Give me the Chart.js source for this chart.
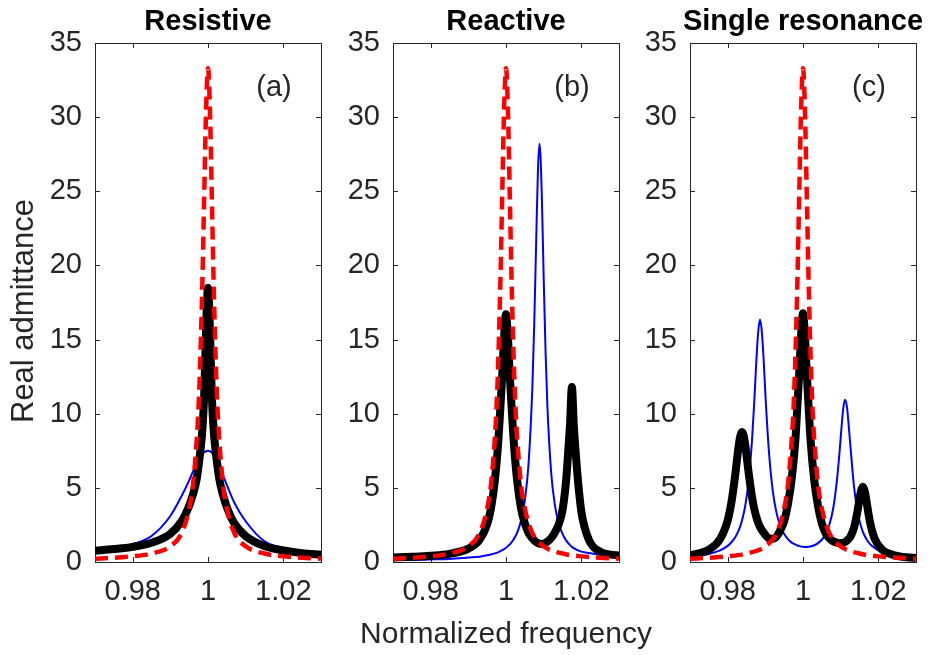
<!DOCTYPE html>
<html>
<head>
<meta charset="utf-8">
<title>Real admittance</title>
<script src="https://cdn.jsdelivr.net/npm/chart.js@4.4.1/dist/chart.umd.min.js"></script>
<style>
  body { margin: 0; background: #fff; }
  #fig { position: relative; width: 930px; height: 655px; overflow: hidden; }
  #fig canvas { position: absolute; top: 0; }
</style>
</head>
<body>
<div id="fig">
  <canvas id="resistive" width="330" height="655" style="left:0px"></canvas>
  <canvas id="reactive" width="330" height="655" style="left:330px"></canvas>
  <canvas id="single" width="305" height="655" style="left:625px"></canvas>
</div>
<script>
// ejes y textos
const xTicks = [0.98, 1, 1.02]
const xTickLabels = ['0.98', '1', '1.02']
const yTicks = [0, 5, 10, 15, 20, 25, 30, 35]
const panelTitles = ['Resistive', 'Reactive', 'Single resonance']
const panelTags = ['(a)', '(b)', '(c)']
const xTitle = 'Normalized frequency'
const yTitle = 'Real admittance'

// panel (a) - la curva roja (resonancia sola) se usa en los tres paneles
const freqA = [0.970, 0.975, 0.980, 0.985, 0.990, 0.993, 0.995, 0.996, 0.997, 0.9975,
  0.998, 0.9985, 0.999, 0.9995, 1.000, 1.0005, 1.001, 1.0015, 1.002, 1.0025,
  1.003, 1.004, 1.005, 1.007, 1.010, 1.015, 1.020, 1.025, 1.030]
const singleRes = [0.22, 0.29, 0.38, 0.57, 1.06, 1.95, 3.6, 5.2, 8.2, 10.5,
  14.0, 18.8, 24.8, 30.6, 33.3, 30.6, 24.8, 18.8, 14.0, 10.5,
  8.2, 5.2, 3.6, 1.95, 1.06, 0.57, 0.38, 0.29, 0.22]
const blackA = [0.76, 0.87, 1.02, 1.3, 1.9, 2.75, 3.8, 4.55, 5.6, 6.5,
  7.55, 8.9, 11.3, 15.8, 18.5, 15.8, 11.3, 8.9, 7.55, 6.5,
  5.6, 4.5, 3.7, 2.6, 1.75, 1.07, 0.78, 0.6, 0.48]
const blueA = [0.88, 1.0, 1.2, 1.75, 3.1, 4.45, 5.5, 6.1, 6.65, 6.9,
  7.1, 7.28, 7.4, 7.47, 7.5, 7.47, 7.38, 7.2, 6.95, 6.7,
  6.45, 5.85, 5.2, 4.0, 2.75, 1.4, 0.95, 0.72, 0.6]

// panel (b)
const freqB = [0.970, 0.975, 0.980, 0.985, 0.990, 0.993, 0.995, 0.996, 0.997, 0.998,
  0.9985, 0.999, 0.9995, 1.000, 1.0005, 1.001, 1.0015, 1.002, 1.003, 1.004,
  1.005, 1.006, 1.007, 1.0075, 1.008, 1.0085, 1.0089, 1.0095, 1.010, 1.0105,
  1.011, 1.012, 1.013, 1.014, 1.015, 1.016, 1.0165, 1.017, 1.0175, 1.018,
  1.0185, 1.019, 1.020, 1.022, 1.025, 1.030]
const blackB = [0.3, 0.35, 0.42, 0.55, 0.9, 1.5, 2.55, 3.6, 5.4, 8.3,
  10.4, 12.6, 15.2, 16.7, 15.2, 12.6, 10.4, 8.3, 5.4, 3.6,
  2.6, 1.95, 1.6, 1.45, 1.35, 1.28, 1.24, 1.22, 1.24, 1.3,
  1.38, 1.62, 2.0, 2.55, 3.5, 5.6, 7.4, 9.3, 11.8, 9.2,
  7.4, 5.8, 3.4, 1.5, 0.7, 0.43]
const blueB = [0.13, 0.14, 0.17, 0.21, 0.3, 0.36, 0.45, 0.51, 0.58, 0.67,
  0.73, 0.8, 0.87, 0.96, 1.07, 1.19, 1.34, 1.52, 2.0, 2.8,
  4.14, 6.67, 11.8, 16.05, 21.5, 26.6, 28.2, 24.8, 19.2, 14.2,
  10.45, 6.0, 3.8, 2.6, 1.9, 1.44, 1.28, 1.14, 1.02, 0.93,
  0.86, 0.8, 0.7, 0.6, 0.48, 0.35]

// panel (c)
const freqC = [0.970, 0.975, 0.978, 0.980, 0.981, 0.982, 0.9828, 0.9833, 0.9838, 0.9843,
  0.9848, 0.9855, 0.9865, 0.9871, 0.9876, 0.9881, 0.9886, 0.9891, 0.9896, 0.9901,
  0.991, 0.992, 0.993, 0.994, 0.995, 0.996, 0.997, 0.998, 0.9985, 0.999,
  0.9995, 1.000, 1.0005, 1.001, 1.0015, 1.002, 1.003, 1.004, 1.005, 1.006,
  1.007, 1.008, 1.009, 1.0097, 1.0102, 1.0107, 1.0112, 1.0117, 1.0122, 1.0127,
  1.0135, 1.0144, 1.0149, 1.0154, 1.0159, 1.0164, 1.0169, 1.0178, 1.019, 1.021,
  1.025, 1.030]
const blackC = [0.45, 0.84, 1.55, 2.81, 4.03, 5.85, 7.58, 8.44, 8.76, 8.47,
  7.64, 6.16, 4.32, 3.54, 3.04, 2.66, 2.36, 2.14, 1.96, 1.8,
  1.6, 1.56, 1.72, 2.15, 2.75, 3.9, 5.6, 8.3, 10.5, 12.75,
  15.3, 16.77, 15.3, 12.73, 10.4, 8.25, 5.5, 3.75, 2.6, 1.95,
  1.6, 1.4, 1.3, 1.27, 1.28, 1.3, 1.36, 1.45, 1.58, 1.76,
  2.28, 3.33, 4.09, 4.79, 5.07, 4.76, 4.02, 2.67, 1.59, 0.83,
  0.42, 0.27]
const blueC = [0.35, 0.54, 0.78, 1.09, 1.33, 1.67, 2.07, 2.39, 2.8, 3.32,
  4.0, 5.32, 8.35, 11.0, 13.5, 15.5, 16.35, 15.45, 13.4, 10.9,
  7.3, 4.75, 3.28, 2.42, 1.88, 1.54, 1.31, 1.17, 1.11, 1.07,
  1.04, 1.02, 1.01, 1.01, 1.03, 1.05, 1.13, 1.27, 1.5, 1.88,
  2.51, 3.59, 5.49, 7.4, 9.0, 10.4, 10.95, 10.4, 9.0, 7.47,
  5.19, 3.52, 2.89, 2.41, 2.03, 1.75, 1.52, 1.21, 0.95, 0.65,
  0.43, 0.3]

const fontFamily = '"Liberation Sans", Arial, Helvetica, sans-serif'
const axisColor = '#262626'

const pts = (xs, ys) => xs.map((v, i) => ({ x: v, y: ys[i] }))

// marco, marcas hacia adentro y textos (estilo matlab)
const decor = {
  id: 'decor',
  beforeDatasetsDraw(chart) {
    const { ctx, chartArea: a, scales } = chart
    ctx.save()
    ctx.strokeStyle = axisColor
    ctx.lineWidth = 1
    ctx.strokeRect(a.left + 0.5, a.top + 0.5, a.right - a.left, a.bottom - a.top)
    ctx.beginPath()
    xTicks.forEach(v => {
      const px = Math.round(scales.x.getPixelForValue(v)) + 0.5
      ctx.moveTo(px, a.bottom); ctx.lineTo(px, a.bottom - 5)
      ctx.moveTo(px, a.top); ctx.lineTo(px, a.top + 5)
    })
    yTicks.forEach(v => {
      const py = Math.round(scales.y.getPixelForValue(v)) + 0.5
      ctx.moveTo(a.left, py); ctx.lineTo(a.left + 5, py)
      ctx.moveTo(a.right, py); ctx.lineTo(a.right - 5, py)
    })
    ctx.stroke()
    ctx.restore()
  },
  afterDraw(chart, args, opts) {
    const { ctx, chartArea: a } = chart
    const mid = (a.left + a.right) / 2
    ctx.save()
    ctx.textAlign = 'center'
    ctx.textBaseline = 'alphabetic'
    ctx.fillStyle = '#000'
    ctx.font = 'bold 29px ' + fontFamily
    ctx.fillText(opts.title, mid, 30)
    ctx.fillStyle = axisColor
    ctx.font = '29px ' + fontFamily
    ctx.fillText(opts.tag, a.right - 47, 96)
    if (opts.xlabel) {
      ctx.font = '30px ' + fontFamily
      ctx.fillText(opts.xlabel, mid, 643)
    }
    if (opts.ylabel) {
      ctx.font = '31px ' + fontFamily
      ctx.translate(33, 311)
      ctx.rotate(-Math.PI / 2)
      ctx.fillText(opts.ylabel, 0, 0)
    }
    ctx.restore()
  }
}

const panel = (id, freq, black, blue, n, yWidth, padRight) => new Chart(document.getElementById(id), {
  type: 'line',
  data: {
    datasets: [
      { label: 'Single resonance', data: pts(freqA, singleRes), borderColor: 'rgb(255, 0, 0)',
        borderWidth: 4.5, borderDash: [13, 7], order: 0, clip: 0 },
      { label: 'Total', data: pts(freq, black), borderColor: 'rgb(0, 0, 0)',
        borderWidth: 8, borderJoinStyle: 'round', order: 1, clip: 0 },
      { label: 'Load', data: pts(freq, blue), borderColor: 'rgb(0, 0, 255)',
        borderWidth: 2, order: 2, clip: 0 }
    ]
  },
  options: {
    responsive: false,
    animation: false,
    events: [],
    layout: { padding: { left: 0, right: padRight, top: 43, bottom: 0 } },
    elements: {
      point: { radius: 0 },
      line: { cubicInterpolationMode: 'monotone', fill: false }
    },
    plugins: {
      legend: { display: false },
      tooltip: { enabled: false },
      decor: {
        title: panelTitles[n],
        tag: panelTags[n],
        xlabel: n === 1 ? xTitle : null,
        ylabel: n === 0 ? yTitle : null
      }
    },
    scales: {
      x: {
        type: 'linear', min: 0.97, max: 1.03,
        grid: { display: false, drawTicks: false },
        border: { display: false },
        afterBuildTicks: s => { s.ticks = xTicks.map(v => ({ value: v })) },
        afterFit: s => { s.height = 93 },
        ticks: {
          padding: 13, color: axisColor, maxRotation: 0, autoSkip: false,
          font: { family: fontFamily, size: 29 },
          callback: v => xTickLabels[xTicks.indexOf(v)]
        }
      },
      y: {
        type: 'linear', min: 0, max: 35,
        grid: { display: false, drawTicks: false },
        border: { display: false },
        afterBuildTicks: s => { s.ticks = yTicks.map(v => ({ value: v })) },
        afterFit: s => { s.width = yWidth },
        ticks: {
          padding: 13, color: axisColor,
          font: { family: fontFamily, size: 29 },
          callback: v => String(v)
        }
      }
    }
  },
  plugins: [decor]
})

panel('resistive', freqA, blackA, blueA, 0, 95, 9)
panel('reactive', freqB, blackB, blueB, 1, 63, 41)
panel('single', freqC, blackC, blueC, 2, 65, 14)
</script>
</body>
</html>
